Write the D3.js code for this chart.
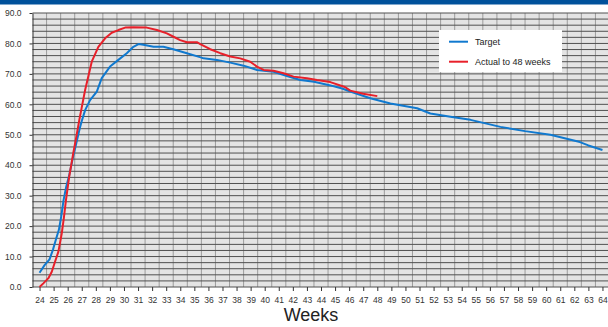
<!DOCTYPE html>
<html>
<head>
<meta charset="utf-8">
<script src="https://cdn.jsdelivr.net/npm/d3@7"></script>
<style>
  body { margin: 0; background: #fff; }
  svg { display: block; font-family: "Liberation Sans", Arial, sans-serif; }
</style>
</head>
<body>
<figure id="chart" style="margin:0"></figure>
<script>
// week numbers on the x axis
const weeks = d3.range(24, 65);
const yTicks = d3.range(0, 91, 10);

// target curve
const targetWeeks = [24.0, 24.36, 24.71, 24.95, 25.19, 25.37, 25.54, 25.71, 25.9, 26.1, 26.35, 26.6, 26.85, 27.0, 27.24,
  27.59, 28.07, 28.42, 29.01, 29.6, 30.2, 30.67, 31.03, 31.38, 32.1, 32.8, 33.5, 34.47, 35.4, 35.65, 36.6, 37.55,
  38.5, 39.45, 40.63, 41.58, 42.53, 43.5, 44.6, 45.5, 46.08, 47.5, 48.93, 50.83, 51.77, 53.2, 54.62, 56.75, 58.5,
  60.3, 62.4, 63.0, 64.0];
const targetValues = [4.7, 7.2, 9.1, 12.2, 16.0, 18.7, 23.1, 28.6, 33.0, 36.5, 42.0, 47.0, 52.0, 54.5, 58.1,
  61.4, 64.2, 68.6, 72.4, 74.6, 76.8, 78.9, 79.8, 79.6, 78.9, 78.9, 78.1, 76.8, 75.5, 75.1, 74.6, 73.7,
  72.7, 71.3, 70.7, 69.3, 68.0, 67.4, 66.3, 65.2, 64.2, 62.0, 60.3, 58.7, 57.0, 55.9, 54.9, 52.6, 51.2,
  50.0, 47.6, 46.5, 45.0];

// actual curve up to week 48
const actualWeeks = [24.0, 24.27, 24.63, 24.87, 25.1, 25.34, 25.58, 25.74, 25.88, 26.1, 26.4, 26.6, 26.83, 27.0,
  27.24, 27.71, 28.18, 28.66, 29.13, 29.6, 30.08, 30.67, 31.62, 32.34, 33.05, 33.52, 33.99, 34.47, 35.18, 35.42,
  36.13, 36.84, 37.55, 38.26, 38.97, 39.45, 39.92, 40.63, 41.34, 42.05, 43.0, 43.71, 44.66, 45.7, 46.08, 47.0, 48.0];
const actualValues = [0.0, 1.2, 2.9, 5.0, 8.3, 11.6, 17.6, 23.1, 28.6, 36.0, 44.0, 49.0, 55.0, 59.0,
  64.7, 74.0, 78.9, 81.7, 83.5, 84.4, 85.2, 85.3, 85.2, 84.4, 83.3, 82.2, 81.1, 80.4, 80.4, 79.8,
  78.1, 76.8, 75.7, 75.1, 74.0, 72.4, 71.3, 71.0, 70.2, 69.1, 68.6, 68.0, 67.3, 65.7, 64.5, 63.5, 62.7];

const seriesNames = ["Target", "Actual to 48 weeks"];
const seriesColors = ["#1079cf", "#e8202a"];

const width = 608, height = 327;
const plotLeft = 32.5, plotRight = 609.5, plotTop = 13, plotBottom = 287;

const svg = d3.select("#chart").append("svg")
  .attr("width", width)
  .attr("height", height);

const x = d3.scaleLinear().domain([23.5, 64.5]).range([plotLeft, plotRight]);
const y = d3.scaleLinear().domain([0, 90]).range([plotBottom, plotTop]);

// title bar (cut off at the top)
svg.append("rect")
  .attr("x", 0).attr("y", 0)
  .attr("width", width).attr("height", 4.5)
  .attr("fill", "#00519b");

// plot background
svg.append("rect")
  .attr("x", plotLeft).attr("y", plotTop)
  .attr("width", plotRight - plotLeft).attr("height", plotBottom - plotTop)
  .attr("fill", "#e4e4e4");

// vertical grid between weeks
svg.append("g")
  .selectAll("line")
  .data(d3.range(24.5, 64.5, 1)).enter()
  .append("line")
  .attr("x1", (d) => x(d)).attr("x2", (d) => x(d))
  .attr("y1", plotTop).attr("y2", plotBottom)
  .attr("stroke", "#9c9c9c")
  .attr("stroke-width", 1);

// horizontal grid every 2 units
svg.append("g")
  .selectAll("line")
  .data(d3.range(0, 91, 2)).enter()
  .append("line")
  .attr("x1", plotLeft).attr("x2", plotRight)
  .attr("y1", (d) => y(d)).attr("y2", (d) => y(d))
  .attr("stroke", "#505050")
  .attr("stroke-width", 1);

// axes
const yAxis = svg.append("g")
  .attr("transform", `translate(${plotLeft},0)`)
  .call(d3.axisLeft(y).tickValues(yTicks).tickFormat(d3.format(".1f"))
    .tickSize(3).tickSizeOuter(0).tickPadding(8));
yAxis.select(".domain").attr("stroke", "#333");
yAxis.selectAll(".tick line").attr("stroke", "#333");
yAxis.selectAll("text").attr("fill", "#333").style("font-size", "8.5px");

const xAxis = svg.append("g")
  .attr("transform", `translate(0,${plotBottom})`)
  .call(d3.axisBottom(x).tickValues(weeks).tickFormat(d3.format("d"))
    .tickSize(4).tickSizeOuter(0).tickPadding(6));
xAxis.select(".domain").remove();
xAxis.selectAll(".tick line").attr("stroke", "#333");
xAxis.selectAll("text").attr("fill", "#333").style("font-size", "8.5px");

svg.append("text")
  .attr("x", 311).attr("y", 321)
  .attr("text-anchor", "middle")
  .attr("fill", "#222")
  .style("font-size", "18px")
  .text("Weeks");

// the two curves
const line = d3.line()
  .x((d) => x(d[0]))
  .y((d) => y(d[1]));

const series = [
  d3.zip(targetWeeks, targetValues),
  d3.zip(actualWeeks, actualValues)
];

svg.append("g")
  .selectAll("path")
  .data(series).enter()
  .append("path")
  .attr("d", line)
  .attr("fill", "none")
  .attr("stroke", (d, i) => seriesColors[i])
  .attr("stroke-width", 2)
  .attr("stroke-linejoin", "round");

// legend
const legend = svg.append("g").attr("transform", "translate(439,30)");
legend.append("rect")
  .attr("width", 123).attr("height", 42)
  .attr("fill", "#fff");
seriesNames.forEach((name, i) => {
  const ly = 11.7 + i * 20;
  legend.append("line")
    .attr("x1", 10).attr("x2", 29)
    .attr("y1", ly).attr("y2", ly)
    .attr("stroke", seriesColors[i])
    .attr("stroke-width", 2);
  legend.append("text")
    .attr("x", 36).attr("y", ly + 3)
    .attr("fill", "#222")
    .style("font-size", "9px")
    .text(name);
});
</script>
</body>
</html>
